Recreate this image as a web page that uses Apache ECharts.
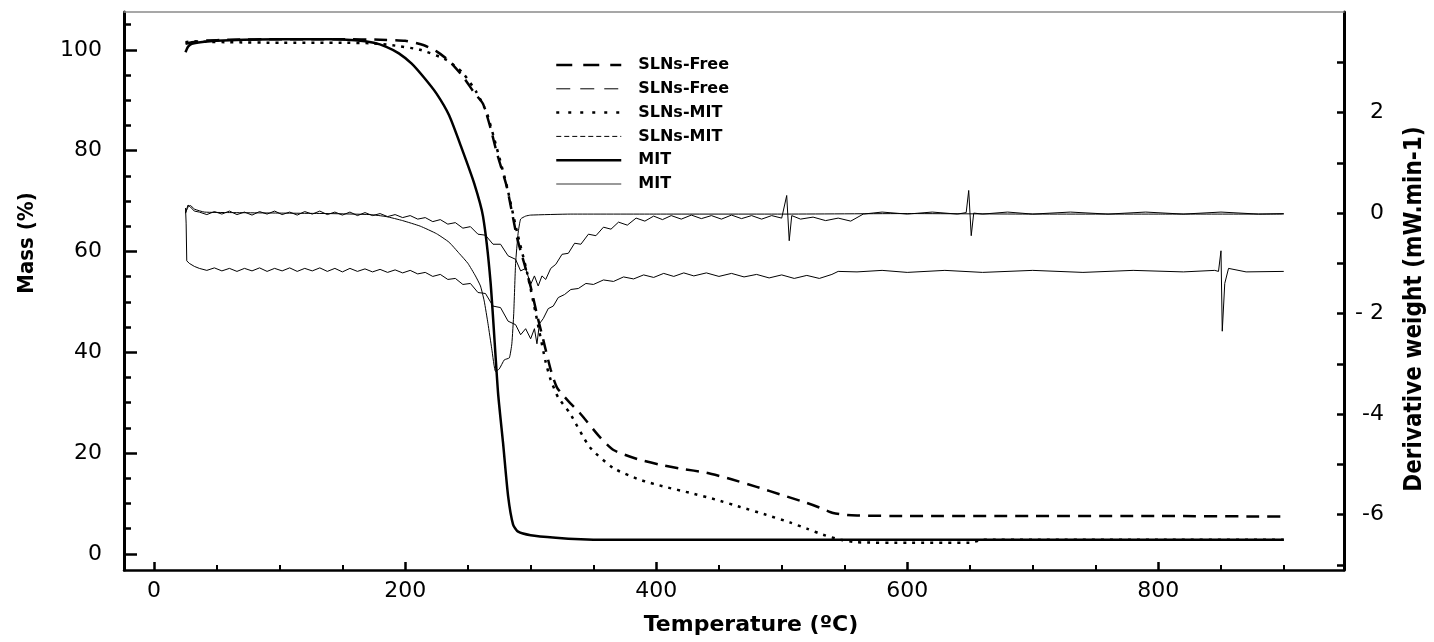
<!DOCTYPE html>
<html><head><meta charset="utf-8">
<script src="https://cdn.jsdelivr.net/npm/echarts@6/dist/echarts.min.js"></script>
<style>html,body{margin:0;padding:0;background:#fff}#c{width:1434px;height:642px}</style>
</head><body><div id="c"></div>
<script>
// ---- tick / label values ----
const xMajorTicks = [0, 200, 400, 600, 800];
const xMinorTicks = [50, 100, 150, 250, 300, 350, 450, 500, 550, 650, 700, 750, 850, 900];
const massMajorTicks = [0, 20, 40, 60, 80, 100];
const massMinorTicks = [5, 10, 15, 25, 30, 35, 45, 50, 55, 65, 70, 75, 85, 90, 95, 105];
const derivTicks = [-7, -6, -5, -4, -3, -2, -1, 0, 1, 2, 3];
const derivLabels = [-6, -4, -2, 0, 2];

// ---- TG: SLNs-Free  [temperature ºC, mass %] ----
const freeTg = [[25,101.2],[30,101.5],[40,101.8],[60,102],[100,102.1],[150,102.1],[180,102],[200,101.8],[215,100.9],[225,99.7],[235,97.8],[246,94.7],[255,91.5],[262,89.3],[268,84.5],[273,79.6],[281,72.8],[289,62.9],[295,57.5],[300,53],[305,47.5],[310,42.5],[316,36.5],[321,33],[330,30.3],[339,28],[355,23.2],[366,20.6],[385,18.8],[403,17.7],[420,16.9],[440,16.1],[460,14.8],[480,13.3],[500,11.7],[520,10.1],[530,9.2],[541,8.1],[552,7.7],[560,7.6],[600,7.5],[700,7.5],[800,7.5],[900,7.4]];

// ---- TG: SLNs-MIT  [temperature ºC, mass %] ----
const mitSlnTg = [[25,101.5],[30,101.7],[40,101.6],[60,101.5],[100,101.4],[150,101.4],[172,101.3],[190,100.9],[212,100],[233,98],[246,95.4],[257,91.5],[265,87.5],[273,80.5],[281,73],[289,64],[297,56],[305,46.5],[312,38],[316,34.5],[322,31],[331,28],[347,21.2],[366,17],[387,14.7],[407,13.3],[427,12.1],[447,10.8],[467,9.3],[487,7.8],[507,6.2],[520,5],[533,3.8],[547,2.8],[560,2.3],[600,2.2],[650,2.2],[660,2.8],[700,2.8],[800,2.8],[900,2.8]];

// ---- TG: MIT  [temperature ºC, mass %] ----
const mitTg = [[25,99.5],[27,100.6],[30,101.2],[40,101.6],[60,101.9],[100,102.1],[140,102.1],[160,101.9],[175,101.4],[185,100.6],[195,99.3],[205,97.3],[215,94.5],[225,91.3],[235,87],[245,80.5],[255,73.5],[262,67],[268,54],[274,32],[278,22],[282,11.5],[286,5.8],[290,4.4],[300,3.7],[320,3.2],[340,2.9],[360,2.8],[400,2.8],[500,2.8],[600,2.8],[700,2.8],[800,2.8],[900,2.8]];

// ---- DTG: SLNs-Free  [temperature ºC, mW.min-1] ----
const freeDtg = [[25,0.0],[27,0.16],[29,0.12],[32,0.04],[36,0.02],[42,-0.03],[48,0.03],[54,-0.02],[60,0.04],[66,-0.03],[72,0.02],[78,-0.04],[84,0.03],[90,-0.02],[96,0.04],[102,-0.03],[108,0.02],[114,-0.04],[120,0.03],[126,-0.02],[132,0.04],[138,-0.03],[144,0.02],[150,-0.04],[156,0.02],[162,-0.05],[168,0.01],[174,-0.05],[180,-0.01],[186,-0.07],[192,-0.03],[198,-0.09],[204,-0.05],[210,-0.12],[216,-0.09],[222,-0.17],[228,-0.13],[234,-0.22],[240,-0.19],[246,-0.3],[252,-0.27],[258,-0.42],[264,-0.44],[270,-0.62],[276,-0.62],[282,-0.85],[288,-0.92],[292,-1.15],[296,-1.1],[300,-1.42],[303,-1.25],[306,-1.45],[309,-1.25],[312,-1.32],[316,-1.1],[320,-1.02],[325,-0.82],[330,-0.8],[335,-0.6],[340,-0.62],[346,-0.42],[352,-0.45],[358,-0.28],[364,-0.32],[370,-0.18],[377,-0.24],[384,-0.1],[391,-0.16],[398,-0.06],[405,-0.13],[412,-0.05],[420,-0.12],[428,-0.04],[436,-0.11],[444,-0.05],[452,-0.12],[460,-0.04],[468,-0.11],[476,-0.05],[484,-0.12],[492,-0.05],[500,-0.1],[504,0.35],[506,-0.55],[508,-0.05],[515,-0.12],[525,-0.08],[535,-0.15],[545,-0.1],[555,-0.16],[565,-0.02],[580,0.02],[600,-0.02],[620,0.02],[640,-0.02],[647,0.01],[649,0.45],[651,-0.45],[653,0.0],[660,-0.02],[680,0.02],[700,-0.02],[730,0.02],[760,-0.02],[790,0.02],[820,-0.02],[850,0.02],[880,-0.02],[900,-0.01]];

// ---- DTG: SLNs-MIT  [temperature ºC, mW.min-1] ----
const mitSlnDtg = [[25,0.1],[25.5,-0.2],[26,-0.95],[28,-1.0],[32,-1.06],[36,-1.1],[42,-1.14],[48,-1.09],[54,-1.15],[60,-1.1],[66,-1.16],[72,-1.1],[78,-1.15],[84,-1.09],[90,-1.16],[96,-1.1],[102,-1.15],[108,-1.09],[114,-1.16],[120,-1.1],[126,-1.15],[132,-1.09],[138,-1.16],[144,-1.1],[150,-1.17],[156,-1.1],[162,-1.16],[168,-1.11],[174,-1.17],[180,-1.12],[186,-1.18],[192,-1.13],[198,-1.19],[204,-1.14],[210,-1.21],[216,-1.18],[222,-1.26],[228,-1.22],[234,-1.32],[240,-1.3],[246,-1.42],[252,-1.4],[258,-1.58],[264,-1.6],[270,-1.85],[276,-1.88],[282,-2.15],[288,-2.22],[292,-2.42],[296,-2.3],[300,-2.5],[303,-2.3],[305,-2.6],[307,-2.2],[310,-2.1],[314,-1.9],[318,-1.85],[322,-1.68],[327,-1.62],[332,-1.52],[338,-1.5],[344,-1.4],[350,-1.42],[358,-1.33],[366,-1.36],[374,-1.27],[382,-1.31],[390,-1.23],[398,-1.28],[406,-1.2],[414,-1.26],[422,-1.19],[430,-1.25],[440,-1.19],[450,-1.26],[460,-1.2],[470,-1.27],[480,-1.22],[490,-1.29],[500,-1.23],[510,-1.3],[520,-1.24],[530,-1.3],[540,-1.22],[545,-1.16],[560,-1.17],[580,-1.14],[600,-1.18],[630,-1.14],[660,-1.18],[700,-1.14],[740,-1.18],[780,-1.14],[820,-1.17],[845,-1.14],[848,-1.16],[850,-0.75],[851,-2.35],[853,-1.4],[856,-1.1],[870,-1.17],[900,-1.16]];

// ---- DTG: MIT  [temperature ºC, mW.min-1] ----
const mitDtg = [[25,0.0],[27,0.12],[29,0.15],[32,0.08],[40,0.02],[60,0.01],[100,0.0],[140,-0.01],[172,-0.03],[185,-0.07],[198,-0.15],[212,-0.26],[225,-0.41],[235,-0.58],[243,-0.8],[250,-1.0],[256,-1.25],[260,-1.45],[263,-1.75],[266,-2.2],[269,-2.7],[272,-3.15],[275,-3.1],[279,-2.92],[283,-2.88],[285,-2.6],[286.5,-2.0],[288,-1.0],[290,-0.4],[292,-0.12],[296,-0.06],[300,-0.04],[332,-0.02],[400,-0.02],[500,-0.02],[600,-0.01],[700,-0.02],[800,-0.02],[900,-0.02]];

const labelFont = { fontFamily: 'DejaVu Sans', fontSize: 22, color: '#000' };

const chart = echarts.init(document.getElementById('c'), null, { renderer: 'canvas' });
chart.setOption({
  animation: false,
  backgroundColor: '#fff',
  grid: { left: 124, right: 90, top: 12, bottom: 72, containLabel: false, outerBoundsMode: 'none' },
  legend: {
    orient: 'vertical', left: 550, top: 52,
    itemWidth: 65, itemHeight: 14, itemGap: 7.8,
    formatter: n => n.split('|')[0],
    itemStyle: { opacity: 0 },
    textStyle: { fontFamily: 'DejaVu Sans', fontWeight: 'bold', fontSize: 16, color: '#000', padding: [0, 0, 0, 12] },
    data: [
      { name: 'SLNs-Free|TG', lineStyle: { type: [16, 11], width: 2.5 } },
      { name: 'SLNs-Free|DTG', lineStyle: { type: [14, 10], width: 1 } },
      { name: 'SLNs-MIT|TG', lineStyle: { type: [3, 9], width: 2.5 } },
      { name: 'SLNs-MIT|DTG', lineStyle: { type: [5, 3], width: 1 } },
      { name: 'MIT|TG', lineStyle: { width: 2.5 } },
      { name: 'MIT|DTG', lineStyle: { width: 2, color: '#999' } }
    ]
  },
  xAxis: [
    {
      type: 'value', position: 'bottom', min: -24, max: 948,
      name: 'Temperature (ºC)', nameLocation: 'middle', nameGap: 44,
      nameTextStyle: { fontFamily: 'DejaVu Sans', fontWeight: 'bold', fontSize: 22, color: '#000', padding: [0, 0, 0, 34] },
      axisLine: { onZero: false, lineStyle: { color: '#000', width: 2.5 } },
      axisTick: { inside: true, length: 8, lineStyle: { color: '#000', width: 2.5 }, customValues: xMajorTicks },
      axisLabel: Object.assign({ margin: 10, customValues: xMajorTicks }, labelFont),
      splitLine: { show: false }
    },
    {
      type: 'value', position: 'bottom', min: -24, max: 948,
      axisLine: { show: false, onZero: false },
      axisTick: { inside: true, length: 5, lineStyle: { color: '#000', width: 2 }, customValues: xMinorTicks },
      axisLabel: { show: false },
      splitLine: { show: false }
    },
    {
      type: 'value', position: 'top', min: -24, max: 948,
      axisLine: { onZero: false, lineStyle: { color: '#8a8a8a', width: 1.5 } },
      axisTick: { show: false }, axisLabel: { show: false }, splitLine: { show: false }
    }
  ],
  yAxis: [
    {
      type: 'value', position: 'left', min: -3.2, max: 107.5,
      name: 'Mass (%)', nameLocation: 'middle', nameGap: 86, nameRotate: 90,
      nameTextStyle: { fontFamily: 'DejaVu Sans Condensed', fontWeight: 'bold', fontSize: 22, color: '#000', padding: [0, 0, 0, 96] },
      axisLine: { onZero: false, lineStyle: { color: '#000', width: 3 } },
      axisTick: { inside: true, length: 13, lineStyle: { color: '#000', width: 2.5 }, customValues: massMajorTicks },
      axisLabel: Object.assign({ margin: 22, customValues: massMajorTicks }, labelFont),
      splitLine: { show: false }
    },
    {
      type: 'value', position: 'left', min: -3.2, max: 107.5,
      axisLine: { show: false, onZero: false },
      axisTick: { inside: true, length: 7, lineStyle: { color: '#000', width: 2.5 }, customValues: massMinorTicks },
      axisLabel: { show: false }, splitLine: { show: false }
    },
    {
      type: 'value', position: 'right', min: -7.1, max: 4,
      name: 'Derivative weight (mW.min-1)', nameLocation: 'middle', nameGap: 59, nameRotate: 90,
      nameTextStyle: { fontFamily: 'DejaVu Sans Condensed', fontWeight: 'bold', fontSize: 24, color: '#000', padding: [0, 36, 0, 0] },
      axisLine: { onZero: false, lineStyle: { color: '#000', width: 3 } },
      axisTick: { inside: true, length: 7, lineStyle: { color: '#000', width: 2.5 }, customValues: derivTicks },
      axisLabel: Object.assign({ margin: 40, align: 'right', customValues: derivLabels,
        formatter: v => (v === -2 ? '- 2' : String(v)) }, labelFont),
      splitLine: { show: false }
    }
  ],
  series: [
    { name: 'SLNs-Free|TG', type: 'line', xAxisIndex: 0, yAxisIndex: 0, symbol: 'none', data: freeTg,
      smooth: 0.2,
      lineStyle: { color: '#000', width: 2.5, type: [13, 8] }, itemStyle: { color: '#000' } },
    { name: 'SLNs-Free|DTG', type: 'line', xAxisIndex: 0, yAxisIndex: 2, symbol: 'none', data: freeDtg,
      lineStyle: { color: '#000', width: 1 }, itemStyle: { color: '#000' } },
    { name: 'SLNs-MIT|TG', type: 'line', xAxisIndex: 0, yAxisIndex: 0, symbol: 'none', data: mitSlnTg,
      smooth: 0.2,
      lineStyle: { color: '#000', width: 2.5, type: [3, 6] }, itemStyle: { color: '#000' } },
    { name: 'SLNs-MIT|DTG', type: 'line', xAxisIndex: 0, yAxisIndex: 2, symbol: 'none', data: mitSlnDtg,
      lineStyle: { color: '#000', width: 1 }, itemStyle: { color: '#000' } },
    { name: 'MIT|TG', type: 'line', xAxisIndex: 0, yAxisIndex: 0, symbol: 'none', data: mitTg,
      smooth: 0.2,
      lineStyle: { color: '#000', width: 2.5 }, itemStyle: { color: '#000' } },
    { name: 'MIT|DTG', type: 'line', xAxisIndex: 0, yAxisIndex: 2, symbol: 'none', data: mitDtg,
      smooth: 0.15,
      lineStyle: { color: '#000', width: 1 }, itemStyle: { color: '#000' } }
  ]
});
</script>
</body></html>
